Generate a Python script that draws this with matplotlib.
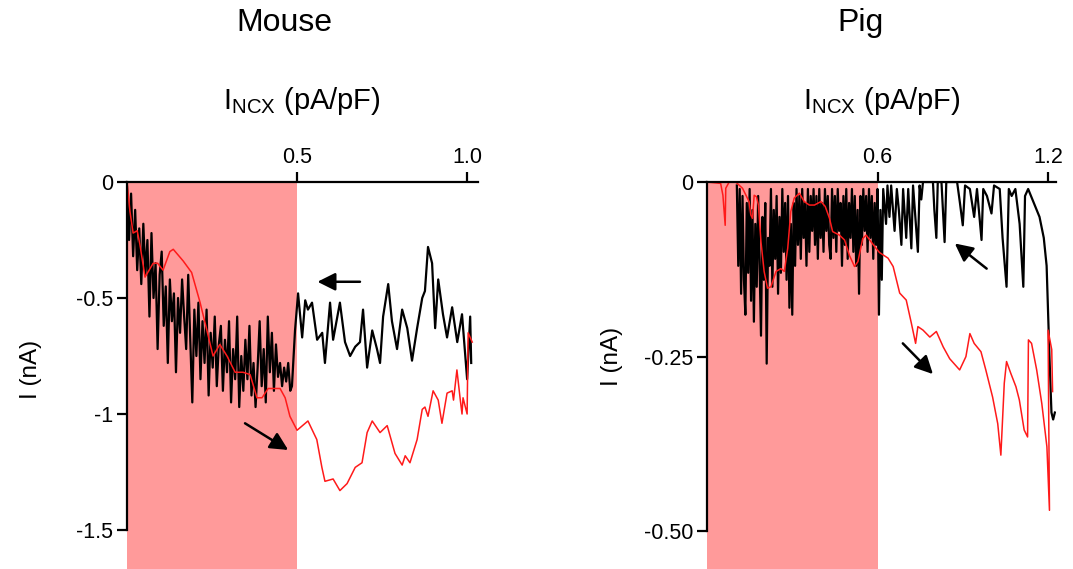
import matplotlib
matplotlib.use("Agg")
import matplotlib.pyplot as plt

plt.rcParams["font.family"] = ["Liberation Sans", "DejaVu Sans"]
plt.rcParams["mathtext.fontset"] = "custom"
plt.rcParams["mathtext.rm"] = "Liberation Sans"

SHADE = "#ff9a9a"
RED = "#ff1a1a"

# ---- Mouse data (x: INCX pA/pF, y: I nA) ----
mouse_black_x = [
    0.000, 0.006, 0.012, 0.018, 0.024, 0.030, 0.036, 0.042, 0.048, 0.054,
    0.060, 0.066, 0.072, 0.078, 0.084, 0.090, 0.096, 0.102, 0.108, 0.114,
    0.120, 0.126, 0.132, 0.138, 0.144, 0.150, 0.156, 0.162, 0.168, 0.174,
    0.180, 0.186, 0.192, 0.198, 0.204, 0.210, 0.216, 0.222, 0.228, 0.234,
    0.240, 0.246, 0.252, 0.258, 0.264, 0.270, 0.276, 0.282, 0.288, 0.294,
    0.300, 0.306, 0.312, 0.318, 0.324, 0.330, 0.336, 0.342, 0.348, 0.354,
    0.360, 0.366, 0.372, 0.378, 0.384, 0.390, 0.396, 0.402, 0.408, 0.414,
    0.420, 0.426, 0.432, 0.438, 0.444, 0.450, 0.456, 0.462, 0.468, 0.474,
    0.480, 0.485, 0.494, 0.503, 0.515, 0.524, 0.532, 0.544, 0.559, 0.574,
    0.582, 0.597, 0.606, 0.626, 0.641, 0.656, 0.671, 0.685, 0.694, 0.706,
    0.721, 0.735, 0.744, 0.753, 0.768, 0.779, 0.794, 0.809, 0.824, 0.838,
    0.853, 0.868, 0.876, 0.885, 0.897, 0.906, 0.915, 0.929, 0.941, 0.956,
    0.971, 0.985, 1.000, 1.009, 1.012,
]
mouse_black_y = [
    -0.02, -0.25, -0.05, -0.32, -0.12, -0.38, -0.20, -0.44, -0.18, -0.40,
    -0.25, -0.58, -0.22, -0.50, -0.35, -0.72, -0.40, -0.30, -0.62, -0.45,
    -0.78, -0.42, -0.60, -0.48, -0.82, -0.50, -0.65, -0.42, -0.58, -0.72,
    -0.40, -0.68, -0.95, -0.55, -0.75, -0.52, -0.85, -0.60, -0.78, -0.55,
    -0.92, -0.65, -0.80, -0.58, -0.88, -0.70, -0.62, -0.90, -0.68, -0.82,
    -0.60, -0.95, -0.72, -0.85, -0.58, -0.97, -0.75, -0.90, -0.68, -0.85,
    -0.62, -0.92, -0.78, -0.97, -0.80, -0.60, -0.88, -0.72, -0.95, -0.58,
    -0.82, -0.65, -0.90, -0.70, -0.84, -0.78, -0.88, -0.80, -0.86, -0.78,
    -0.90, -0.88, -0.64, -0.48, -0.67, -0.51, -0.55, -0.52, -0.68, -0.65,
    -0.78, -0.52, -0.68, -0.52, -0.69, -0.75, -0.71, -0.69, -0.55, -0.80,
    -0.64, -0.72, -0.78, -0.58, -0.44, -0.60, -0.72, -0.55, -0.63, -0.77,
    -0.63, -0.50, -0.47, -0.28, -0.35, -0.63, -0.42, -0.57, -0.67, -0.54,
    -0.69, -0.57, -0.85, -0.58, -0.78,
]
mouse_red_x = [
    0.000, 0.009, 0.018, 0.030, 0.038, 0.053, 0.077, 0.090, 0.106, 0.126,
    0.136, 0.165, 0.190, 0.215, 0.235, 0.253, 0.273, 0.294, 0.318, 0.341,
    0.362, 0.382, 0.397, 0.415, 0.450, 0.465, 0.479, 0.500, 0.532, 0.558,
    0.573, 0.582, 0.606, 0.626, 0.647, 0.671, 0.691, 0.706, 0.721, 0.744,
    0.765, 0.788, 0.809, 0.818, 0.832, 0.853, 0.868, 0.876, 0.885, 0.900,
    0.915, 0.926, 0.941, 0.956, 0.960, 0.970, 0.980, 0.985, 0.988, 1.000,
    1.003, 1.015,
]
mouse_red_y = [
    0.00, -0.13, -0.22, -0.21, -0.27, -0.41, -0.35, -0.35, -0.38, -0.30,
    -0.29, -0.34, -0.39, -0.52, -0.64, -0.75, -0.70, -0.75, -0.82, -0.82,
    -0.83, -0.93, -0.93, -0.89, -0.89, -0.93, -1.01, -1.07, -1.03, -1.11,
    -1.23, -1.29, -1.28, -1.33, -1.30, -1.23, -1.21, -1.08, -1.03, -1.08,
    -1.05, -1.17, -1.22, -1.18, -1.21, -1.11, -0.98, -0.97, -1.01, -0.90,
    -0.94, -1.04, -0.91, -0.90, -0.94, -0.81, -0.94, -1.00, -0.93, -1.00,
    -0.65, -0.69,
]

# ---- Pig data ----
pig_black_x = [
    0.105, 0.110, 0.115, 0.120, 0.125, 0.130, 0.135, 0.140, 0.145, 0.150,
    0.155, 0.160, 0.165, 0.170, 0.175, 0.180, 0.185, 0.190, 0.195, 0.200,
    0.205, 0.210, 0.215, 0.220, 0.225, 0.230, 0.235, 0.240, 0.245, 0.250,
    0.255, 0.260, 0.265, 0.270, 0.275, 0.280, 0.285, 0.290, 0.295, 0.300,
    0.305, 0.310, 0.315, 0.320, 0.325, 0.330, 0.335, 0.340, 0.345, 0.350,
    0.355, 0.360, 0.365, 0.370, 0.375, 0.380, 0.385, 0.390, 0.395, 0.400,
    0.405, 0.410, 0.415, 0.420, 0.425, 0.430, 0.435, 0.440, 0.445, 0.450,
    0.455, 0.460, 0.465, 0.470, 0.475, 0.480, 0.485, 0.490, 0.495, 0.500,
    0.505, 0.510, 0.515, 0.520, 0.525, 0.530, 0.535, 0.540, 0.545, 0.550,
    0.555, 0.560, 0.565, 0.570, 0.575, 0.580, 0.585, 0.590, 0.595, 0.600,
    0.605, 0.610, 0.615, 0.620, 0.630, 0.635, 0.642, 0.648, 0.660, 0.668,
    0.675, 0.684, 0.690, 0.701, 0.708, 0.719, 0.725, 0.742, 0.748, 0.754,
    0.760, 0.795, 0.800, 0.807, 0.812, 0.825, 0.836, 0.842, 0.880, 0.890,
    0.900, 0.908, 0.925, 0.940, 0.950, 0.966, 0.972, 0.985, 1.001, 1.010,
    1.030, 1.040, 1.054, 1.062, 1.072, 1.085, 1.100, 1.113, 1.119, 1.130,
    1.150, 1.170, 1.185, 1.195, 1.205, 1.212, 1.218, 1.224,
]
pig_black_y = [
    -0.005, -0.12, -0.01, -0.16, -0.02, -0.14, -0.19, -0.03, -0.13, -0.01,
    -0.17, -0.04, -0.20, -0.06, -0.15, -0.02, -0.12, -0.22, -0.05, -0.14,
    -0.03, -0.26, -0.08, -0.12, -0.01, -0.15, -0.04, -0.11, -0.02, -0.16,
    -0.05, -0.13, -0.01, -0.10, -0.03, -0.14, -0.02, -0.18, -0.06, -0.19,
    -0.03, -0.12, -0.01, -0.09, -0.02, -0.11, -0.01, -0.08, -0.03, -0.12,
    -0.01, -0.10, -0.02, -0.07, -0.01, -0.09, -0.02, -0.11, -0.01, -0.08,
    -0.03, -0.10, -0.01, -0.07, -0.02, -0.09, -0.11, -0.01, -0.08, -0.02,
    -0.10, -0.01, -0.07, -0.03, -0.12, -0.02, -0.09, -0.01, -0.11, -0.03,
    -0.08, -0.01, -0.10, -0.02, -0.12, -0.04, -0.16, -0.02, -0.09, -0.01,
    -0.07, -0.02, -0.10, -0.01, -0.08, -0.02, -0.11, -0.03, -0.09, -0.01,
    -0.19, -0.04, -0.14, -0.01, -0.06, -0.005, -0.05, -0.005, -0.07, -0.01,
    -0.04, -0.09, -0.01, -0.08, -0.01, -0.095, -0.005, -0.10, -0.005, -0.025,
    0.0, 0.0, -0.04, -0.08, 0.0, 0.0, -0.086, 0.0, 0.0, -0.03,
    -0.062, -0.005, -0.01, -0.05, -0.01, -0.083, -0.01, -0.02, -0.045, -0.005,
    -0.01, -0.08, -0.15, -0.01, -0.02, -0.01, -0.06, -0.15, -0.02, -0.01,
    -0.03, -0.05, -0.08, -0.12, -0.25, -0.33, -0.34, -0.33,
]
pig_red_x = [
    0.000, 0.048, 0.056, 0.064, 0.066, 0.078, 0.101, 0.125, 0.148, 0.154,
    0.160, 0.166, 0.174, 0.181, 0.190, 0.201, 0.213, 0.225, 0.243, 0.260,
    0.272, 0.284, 0.295, 0.307, 0.325, 0.342, 0.360, 0.378, 0.401, 0.416,
    0.431, 0.442, 0.466, 0.484, 0.501, 0.519, 0.531, 0.548, 0.560, 0.578,
    0.595, 0.607, 0.637, 0.655, 0.678, 0.701, 0.719, 0.734, 0.742, 0.760,
    0.784, 0.807, 0.831, 0.854, 0.889, 0.911, 0.925, 0.940, 0.964, 0.981,
    1.005, 1.023, 1.034, 1.046, 1.054, 1.069, 1.087, 1.099, 1.116, 1.128,
    1.131, 1.142, 1.160, 1.178, 1.196, 1.205, 1.200, 1.213, 1.216,
]
pig_red_y = [
    0.000, -0.002, -0.019, -0.062, -0.009, 0.000, 0.000, -0.009, -0.028, -0.047,
    -0.052, -0.019, -0.021, -0.033, -0.086, -0.128, -0.152, -0.150, -0.128, -0.124,
    -0.128, -0.095, -0.042, -0.023, -0.016, -0.028, -0.033, -0.033, -0.028, -0.035,
    -0.052, -0.071, -0.076, -0.083, -0.105, -0.121, -0.114, -0.081, -0.076, -0.086,
    -0.095, -0.101, -0.109, -0.121, -0.159, -0.169, -0.202, -0.231, -0.207, -0.212,
    -0.222, -0.214, -0.236, -0.253, -0.269, -0.250, -0.217, -0.231, -0.243, -0.269,
    -0.308, -0.346, -0.391, -0.288, -0.257, -0.274, -0.293, -0.312, -0.355, -0.365,
    -0.226, -0.231, -0.269, -0.317, -0.379, -0.470, -0.212, -0.240, -0.300,
]

fig = plt.figure(figsize=(10.73, 5.69), dpi=100)


def style_axes(ax, xlim, ylim, ybound, xticks, xticklabels, yticks, yticklabels):
    ax.set_xlim(*xlim)
    ax.set_ylim(*ylim)
    ax.xaxis.tick_top()
    ax.set_xticks(xticks)
    ax.set_xticklabels(xticklabels)
    ax.set_yticks(yticks)
    ax.set_yticklabels(yticklabels)
    ax.tick_params(axis="both", direction="out", length=7, width=1.6,
                   labelsize=15.5, pad=3)
    for side in ("bottom", "right"):
        ax.spines[side].set_visible(False)
    for side in ("top", "left"):
        ax.spines[side].set_linewidth(1.6)
        ax.spines[side].set_zorder(5)
    ax.spines["left"].set_bounds(*ybound)
    ax.patch.set_alpha(0)


def arrow(ax, tail, head):
    ax.annotate("", xy=head, xytext=tail,
                arrowprops=dict(arrowstyle="-|>,head_length=0.6,head_width=0.3",
                                color="black", lw=1.8, mutation_scale=18,
                                shrinkA=0, shrinkB=0))


# Mouse panel
ax1 = fig.add_axes([127 / 1073, 0.0, 351 / 1073, 387 / 569])
ax1.axvspan(0, 0.5, color=SHADE, lw=0, zorder=0)
ax1.plot(mouse_black_x, mouse_black_y, color="black", lw=1.6, zorder=2)
ax1.plot(mouse_red_x, mouse_red_y, color=RED, lw=1.1, zorder=3)
style_axes(ax1, (0, 1.032), (-1.668, 0), (-1.5, 0), [0.5, 1.0], ["0.5", "1.0"],
           [0, -0.5, -1, -1.5], ["0", "-0.5", "-1", "-1.5"])
arrow(ax1, (0.685, -0.43), (0.56, -0.43))
arrow(ax1, (0.347, -1.04), (0.474, -1.155))

# Pig panel
ax2 = fig.add_axes([707 / 1073, 0.0, 349 / 1073, 387 / 569])
ax2.axvspan(0, 0.6, color=SHADE, lw=0, zorder=0)
ax2.plot(pig_black_x, pig_black_y, color="black", lw=1.6, zorder=2)
ax2.plot(pig_red_x, pig_red_y, color=RED, lw=1.1, zorder=3)
style_axes(ax2, (0, 1.228), (-0.554, 0), (-0.5, 0), [0.6, 1.2], ["0.6", "1.2"],
           [0, -0.25, -0.5], ["0", "-0.25", "-0.50"])
arrow(ax2, (0.984, -0.124), (0.872, -0.088))
arrow(ax2, (0.689, -0.231), (0.795, -0.275))

# titles and axis labels
xlab = r"$\mathregular{I_{NCX}}$ (pA/pF)"
fig.text(284 / 1073, 1 - 23 / 569, "Mouse", ha="center", va="center", fontsize=23)
fig.text(860 / 1073, 1 - 23 / 569, "Pig", ha="center", va="center", fontsize=23)
fig.text(302 / 1073, 1 - 101 / 569, xlab, ha="center", va="center", fontsize=21)
fig.text(882 / 1073, 1 - 101 / 569, xlab, ha="center", va="center", fontsize=21)
fig.text(31 / 1073, 1 - 369 / 569, "I (nA)", ha="center", va="center",
         rotation=90, fontsize=17.5)
fig.text(612 / 1073, 1 - 356 / 569, "I (nA)", ha="center", va="center",
         rotation=90, fontsize=17.5)

fig.savefig("out.png", dpi=100)
plt.close(fig)
